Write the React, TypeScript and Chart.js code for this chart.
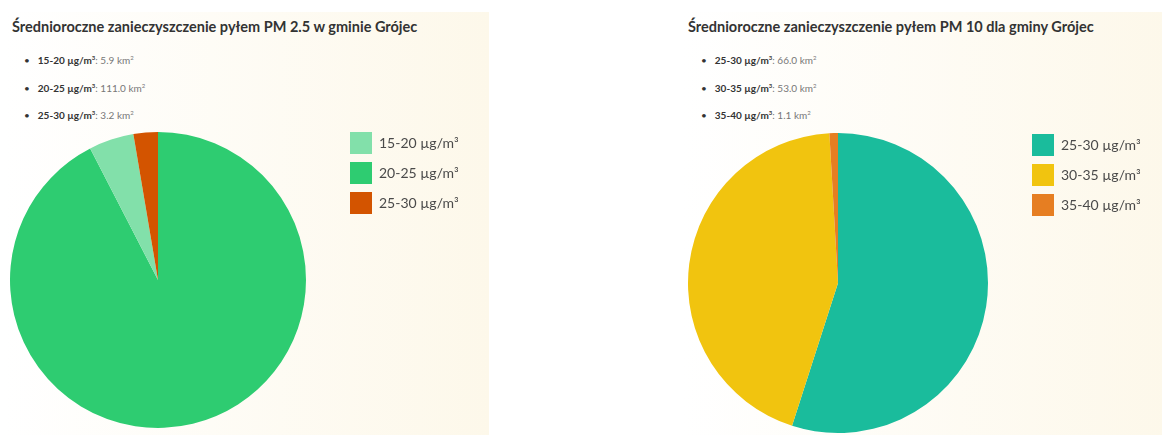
import React, { useEffect, useRef } from "react";
import { Chart, registerables } from "chart.js";

Chart.register(...registerables);

// ---------- data ----------
const unitLabel = "µg/m³";

const pm25Title = "Średnioroczne zanieczyszczenie pyłem PM 2.5 w gminie Grójec";
const pm25Ranges = ["15-20", "20-25", "25-30"];
const pm25Values = [5.9, 111.0, 3.2];
const pm25Colors = ["#82e0aa", "#2ecc71", "#d35400"];
const pm25DrawOrder = [1, 0, 2];

const pm10Title = "Średnioroczne zanieczyszczenie pyłem PM 10 dla gminy Grójec";
const pm10Ranges = ["25-30", "30-35", "35-40"];
const pm10Values = [66.0, 53.0, 1.1];
const pm10Colors = ["#1abc9c", "#f1c40f", "#e67e22"];
const pm10DrawOrder = [0, 1, 2];

const FONT = "Lato, 'Open Sans', sans-serif";

type PanelProps = {
  left: number;
  title: string;
  ranges: string[];
  values: number[];
  colors: string[];
  drawOrder: number[];
  titleX: number;
  listX: number;
  pad: { left: number; right: number; top: number; bottom: number };
  legendX: number;
  legendY: number;
};

function PiePanel(p: PanelProps) {
  const ref = useRef<HTMLCanvasElement>(null);

  useEffect(() => {
    const order = p.drawOrder;
    const labels = order.map((i) => `${p.ranges[i]} ${unitLabel}`);
    const data = order.map((i) => p.values[i]);
    const colors = order.map((i) => p.colors[i]);

    const legendPlace = {
      id: "legendPlace",
      afterLayout(chart: any) {
        const lg = chart.legend;
        if (!lg) return;
        const w = lg.width;
        const h = lg.height;
        lg.left = p.legendX;
        lg.right = p.legendX + w;
        lg.top = p.legendY;
        lg.bottom = p.legendY + h;
      },
    };

    const chart = new Chart(ref.current as HTMLCanvasElement, {
      type: "pie",
      data: {
        labels,
        datasets: [
          {
            data,
            backgroundColor: colors,
            borderWidth: 0,
            hoverBorderWidth: 0,
            hoverOffset: 0,
            offset: 0,
          },
        ],
      },
      options: {
        animation: false,
        responsive: false,
        layout: { padding: p.pad },
        plugins: {
          legend: {
            position: "chartArea" as any,
            align: "start",
            labels: {
              boxWidth: 22,
              boxHeight: 22,
              padding: 8,
              color: "#4a4a4a",
              font: { family: FONT, size: 14 },
              sort: (a: any, b: any) => order[a.index] - order[b.index],
            },
          },
          tooltip: { enabled: false },
        },
      },
      plugins: [legendPlace],
    });
    return () => chart.destroy();
  }, []);

  return (
    <div
      style={{
        position: "absolute",
        left: p.left,
        top: 12,
        width: 486,
        height: 423,
        background: "linear-gradient(to right, #ffffff 0%, #fdf8ea 100%)",
        fontFamily: FONT,
      }}
    >
      <div
        style={{
          position: "absolute",
          left: p.titleX,
          top: 5,
          lineHeight: "20px",
          fontSize: 14.5,
          fontWeight: 700,
          color: "#333333",
          whiteSpace: "nowrap",
        }}
      >
        {p.title}
      </div>
      {p.ranges.map((r, i) => (
        <div
          key={r}
          style={{
            position: "absolute",
            left: p.listX,
            top: 39 + i * 27.5,
            lineHeight: "14px",
            fontSize: 10,
            color: "#777777",
            whiteSpace: "nowrap",
          }}
        >
          <span style={{ color: "#333", marginRight: 8 }}>•</span>
          <b style={{ color: "#333" }}>
            {r} µg/m<sup style={{ fontSize: 6, verticalAlign: 4 }}>3</sup>
          </b>
          : {p.values[i].toFixed(1)} km<sup style={{ fontSize: 6, verticalAlign: 4 }}>2</sup>
        </div>
      ))}
      <canvas
        ref={ref}
        width={486}
        height={310}
        style={{ position: "absolute", left: 0, top: 112, width: 486, height: 310 }}
      />
    </div>
  );
}

export default function App() {
  return (
    <div
      style={{
        position: "fixed",
        left: 0,
        top: 0,
        width: 1162,
        height: 435,
        overflow: "hidden",
        background: "#ffffff",
      }}
    >
      <PiePanel
        left={3}
        title={pm25Title}
        ranges={pm25Ranges}
        values={pm25Values}
        colors={pm25Colors}
        drawOrder={pm25DrawOrder}
        titleX={9}
        listX={21}
        pad={{ left: 7, right: 183, top: 8, bottom: 6 }}
        legendX={339}
        legendY={0}
      />
      <PiePanel
        left={683}
        title={pm10Title}
        ranges={pm10Ranges}
        values={pm10Values}
        colors={pm10Colors}
        drawOrder={pm10DrawOrder}
        titleX={5}
        listX={18}
        pad={{ left: 5, right: 181, top: 9, bottom: 1 }}
        legendX={341}
        legendY={2}
      />
    </div>
  );
}
